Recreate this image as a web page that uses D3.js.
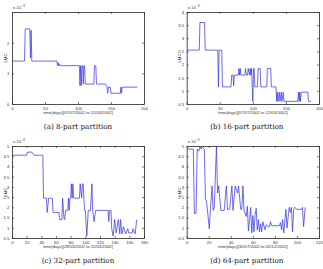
<!DOCTYPE html>
<html><head><meta charset="utf-8">
<script src="https://cdn.jsdelivr.net/npm/d3@7"></script>
<style>html,body{margin:0;padding:0;background:#fff;}svg{display:block;}</style>
</head><body>
<svg id="c" width="323" height="269"></svg>
<script>
// ---- data ----
const days8 = [0,19,20,27,28,29,30,68,69,70,71,72,73,102,103,104,105,106,107,108,109,110,111,124,125,127,128,142,143,144,145,146,147,149,150,164,165,166,167,168,190];
const lmc8  = [1.4,1.4,2.45,2.45,1.5,2.4,1.4,1.4,1.25,1.35,1.25,1.3,1.25,1.25,0.6,1.25,0.6,1.25,1.25,0.65,1.25,1.25,0.65,0.65,1.25,1.25,0.65,0.65,0.6,0.55,0.35,0.55,0.55,0.55,0.35,0.35,0.55,0.35,0.55,0.55,0.55];

const days16 = [0,19,20,27,28,47,48,49,53,54,67,68,70,71,72,78,79,80,81,82,88,89,90,92,93,95,96,97,98,99,100,101,102,103,104,107,108,111,112,121,122,127,128,135,136,137,138,140,141,143,144,146,147,168,169,170,171,172,173,183,184,185,188];
const lmc16  = [2.55,2.55,3.6,3.6,2.55,2.55,1.15,2.55,2.55,1.15,1.15,1.6,1.6,1.2,1.6,1.6,1.85,1.6,1.85,1.6,1.6,1.85,1.6,1.6,1.85,1.6,1.85,1.6,1.85,1.2,0.6,1.85,1.85,1.15,1.15,1.15,1.85,1.85,1.15,1.15,1.85,1.85,1.15,1.15,0.6,0.95,0.6,0.95,0.6,0.95,0.6,0.95,0.6,0.6,0.95,0.6,0.95,0.6,0.95,0.95,0.6,0.6,0.6];

const days32 = [0,20,21,27,29,30,42,43,47,48,50,55,56,64,65,68,69,71,72,73,76,77,78,79,80,81,82,83,84,92,93,95,96,97,98,99,100,102,104,107,109,110,112,114,131,132,133,135,136,138,140,142,145,147,148,150,152,155,158,159,164,165,168,170];
const lmc32  = [4.55,4.55,4.7,4.7,4.6,4.55,4.55,2.45,2.45,1.75,2.45,2.45,1.75,1.75,1.4,1.4,2.45,1.4,1.4,1.85,1.85,2.45,1.85,2.45,2.45,3.15,2.45,3.15,2.45,2.45,3.15,2.45,3.15,3.15,2.45,1.85,1.85,0.6,1.85,1.85,3.15,1.85,1.3,1.85,1.85,1.3,1.85,1.85,0.95,0.6,1.4,0.75,1.4,0.7,1.4,0.7,1.05,0.7,0.95,0.75,0.75,0.95,0.7,1.4];

const days64 = [1,6,7,8.5,9.5,11,12,13,14,16,17,18,20.5,21.5,23,24,25,27,28,29,31,34,36,37,39,41,42,44,46,47,49,50,51,52,54,55,56,57,58,59,60,61,62,63,64,65,66,67,68,69,71,72,74,75,76,77,84,85,86,87,88,90,91,93,94,95,96,97,98,100,101,104,105,106,107.5];
const lmc64  = [4.85,4.85,1.7,1.7,4.85,4.75,4.95,4.85,4.95,4.85,2.4,2.3,0.95,1.9,3.05,1.85,2.0,5.0,2.7,3.05,1.85,1.85,3.05,1.9,1.9,3.05,1.85,3.05,2.7,3.05,1.9,1.9,3.05,1.85,1.55,2.05,0.85,1.4,2.0,0.75,1.6,0.8,1.6,1.95,0.9,1.4,0.8,1.2,0.8,1.3,0.9,1.15,1.05,1.05,1.3,1.1,1.1,1.25,0.9,1.4,0.75,1.9,1.0,2.0,1.75,2.0,0.8,1.9,2.0,1.9,1.9,1.9,2.0,1.05,2.0];

const xTicks8 = [0,50,100,150,200], yTicks8 = [0,1,2];
const xTicks16 = [0,50,100,150,200], yTicks16 = [0.5,1,1.5,2,2.5,3,3.5,4];
const xTicks32 = [0,20,40,60,80,100,120,140,160,180], yTicks = [0.5,1,1.5,2,2.5,3,3.5,4,4.5,5];
const xTicks64 = [0,20,40,60,80,100,120];
const captions = ["(a) 8-part partition","(b) 16-part partition","(c) 32-part partition","(d) 64-part partition"];
const xLabels = ["time(days)[07/07/2002 to 12/03/2002]","time(days)[07/07/2002 to 12/03/2002]","time(days)[28/03/2002 to 12/03/2002]","time(days)[30/07/2002 to 02/12/2002]"];
const yLabel = "LMC";

// ---- drawing ----
const svg = d3.select("#c");
const panels = [
  {x:days8, y:lmc8, xd:[0,200], yd:[0,3], xt:xTicks8, yt:yTicks8, L:12, R:144, T:12, B:104, cap:captions[0], xl:xLabels[0]},
  {x:days16, y:lmc16, xd:[0,200], yd:[0.5,4], xt:xTicks16, yt:yTicks16, L:186.7, R:319, T:12, B:104, cap:captions[1], xl:xLabels[1]},
  {x:days32, y:lmc32, xd:[0,180], yd:[0.5,5], xt:xTicks32, yt:yTicks, L:12, R:144, T:146, B:238, cap:captions[2], xl:xLabels[2]},
  {x:days64, y:lmc64, xd:[0,120], yd:[0.5,5], xt:xTicks64, yt:yTicks, L:186.7, R:319, T:146, B:238, cap:captions[3], xl:xLabels[3]}
];
const tf = "'Liberation Sans', Arial, sans-serif";
panels.forEach((p,i)=>{
  const xs = d3.scaleLinear().domain(p.xd).range([p.L,p.R]);
  const ys = d3.scaleLinear().domain(p.yd).range([p.B,p.T]);
  const g = svg.append("g");
  const clipId = "clip"+i;
  svg.append("clipPath").attr("id",clipId).append("rect")
    .attr("x",p.L).attr("y",p.T-0.5).attr("width",p.R-p.L).attr("height",p.B-p.T+1);
  // axes with inward ticks, mirrored
  const fmt = d=>String(d);
  g.append("g").attr("transform",`translate(0,${p.B})`)
    .call(d3.axisBottom(xs).tickValues(p.xt).tickFormat(fmt).tickSizeInner(-2).tickSizeOuter(0).tickPadding(2.5));
  g.append("g").attr("transform",`translate(0,${p.T})`)
    .call(d3.axisTop(xs).tickValues(p.xt).tickFormat("").tickSizeInner(-2).tickSizeOuter(0));
  g.append("g").attr("transform",`translate(${p.L},0)`)
    .call(d3.axisLeft(ys).tickValues(p.yt).tickFormat(fmt).tickSizeInner(-2).tickSizeOuter(0).tickPadding(2.5));
  g.append("g").attr("transform",`translate(${p.R},0)`)
    .call(d3.axisRight(ys).tickValues(p.yt).tickFormat("").tickSizeInner(-2).tickSizeOuter(0));
  g.selectAll(".domain").attr("stroke","#222").attr("stroke-width",0.8);
  g.selectAll(".tick line").attr("stroke","#222").attr("stroke-width",0.6);
  g.selectAll(".tick text").attr("font-size",4.3).attr("font-family",tf).attr("fill","#333");
  // line
  const pts = p.x.map((d,k)=>[d,p.y[k]]);
  svg.append("path").datum(pts)
    .attr("clip-path",`url(#${clipId})`)
    .attr("d",d3.line().x(d=>xs(d[0])).y(d=>ys(d[1])))
    .attr("fill","none").attr("stroke","#3b3be6").attr("stroke-width",0.75);
  // exponent
  const ex = svg.append("text").attr("x",p.L+1).attr("y",p.T-3).attr("font-size",4.3).attr("font-family",tf).attr("fill","#333");
  ex.append("tspan").text("x 10");
  ex.append("tspan").attr("dy",-1.8).attr("font-size",3.2).text("−3");
  // labels
  svg.append("text").attr("x",(p.L+p.R)/2).attr("y",p.B+10).attr("text-anchor","middle")
    .attr("font-size",4.2).attr("font-family",tf).attr("fill","#333").text(p.xl);
  svg.append("text").attr("transform",`translate(${p.L-5.5},${(p.T+p.B)/2}) rotate(-90)`).attr("text-anchor","middle")
    .attr("font-size",4.3).attr("font-family",tf).attr("fill","#333").text(yLabel);
  svg.append("text").attr("x",(p.L+p.R)/2-(i%2?6:0)+0).attr("y",p.B+24.5).attr("text-anchor","middle")
    .attr("font-size",7.2).attr("font-family","'DejaVu Serif','Liberation Serif',serif").attr("fill","#111").text(p.cap);
});
</script>
</body></html>
